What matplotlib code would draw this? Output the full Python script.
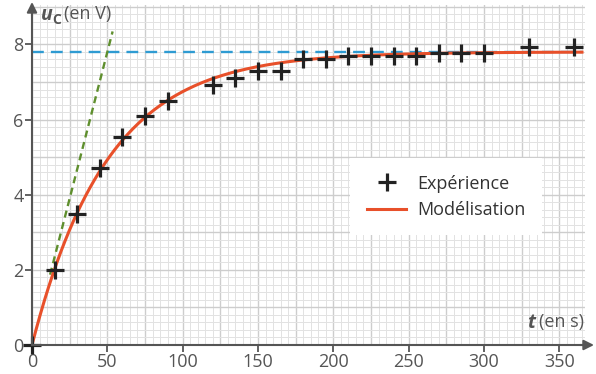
import numpy as np
import matplotlib
matplotlib.use('Agg')
import matplotlib.pyplot as plt
from matplotlib.ticker import MultipleLocator

plt.rcParams['font.family'] = ['Open Sans', 'DejaVu Sans']

# mesures (t en s, uC en V)
t_mes = [0, 15, 30, 45, 60, 75, 90, 120, 135, 150, 165, 180, 195, 210, 225,
         240, 255, 270, 285, 300, 330, 360]
u_mes = [0, 2.0, 3.5, 4.7, 5.53, 6.1, 6.5, 6.92, 7.1, 7.3, 7.3, 7.6, 7.6, 7.7, 7.7,
         7.7, 7.7, 7.78, 7.78, 7.78, 7.93, 7.93]

# modélisation uC = E (1 - exp(-t/tau))
E = 7.8
tau = 50
t_fin = 365
tangente_t = [12, 53.5]

rouge = '#e8502a'
bleu = '#2e9bd2'
vert = '#5f8f2e'
gris = '#555555'

fig = plt.figure(figsize=(5.96, 3.74), dpi=100)
ax = fig.add_axes([32 / 596, 29 / 374, 553 / 596, 340 / 374])
ax.set_xlim(0, 367)
ax.set_ylim(0, 9.05)

# quadrillage
ax.set_xticks([0, 50, 100, 150, 200, 250, 300, 350])
ax.set_yticks([0, 2, 4, 6, 8])
for v in np.arange(0, 367, 5):
    c, lw = ('#cdcdcd', 1.0) if v % 25 == 0 else ('#e2e2e2', 0.7)
    ax.axvline(v, color=c, lw=lw, zorder=0)
for v in np.arange(0, 9.1, 0.2):
    major = abs(v - round(v)) < 1e-6
    c, lw = ('#cdcdcd', 1.0) if major else ('#e2e2e2', 0.7)
    ax.axhline(v, color=c, lw=lw, zorder=0)

# asymptote et tangente
ax.plot([0, t_fin], [E, E], color=bleu, lw=1.7, dashes=(5, 3), zorder=2)
tt = np.array(tangente_t)
ax.plot(tt, E / tau * tt, color=vert, lw=1.7, dashes=(3, 2), zorder=2)

# modèle
t = np.linspace(0, t_fin, 400)
ax.plot(t, E * (1 - np.exp(-t / tau)), color=rouge, lw=2.2, zorder=3,
        label='Modélisation')

# mesures
ax.plot(t_mes, u_mes, ls='none', marker='+', ms=13, mew=2.3, color='#222222',
        zorder=4, label='Expérience', clip_on=False)

# axes
for s in ['top', 'right']:
    ax.spines[s].set_visible(False)
for s in ['left', 'bottom']:
    ax.spines[s].set_color(gris)
    ax.spines[s].set_linewidth(1.5)
    ax.spines[s].set_zorder(5)
ax.tick_params(which='major', length=5, width=1.3, color=gris, labelcolor=gris,
               labelsize=13, pad=1)

# flèches (pixels depuis le bas)
ax.annotate('', xy=(594, 29), xytext=(580, 29), xycoords='figure pixels',
            arrowprops=dict(arrowstyle='-|>', color=gris, lw=1.5,
                            mutation_scale=15, shrinkA=0, shrinkB=0))
ax.annotate('', xy=(32, 372), xytext=(32, 358), xycoords='figure pixels',
            arrowprops=dict(arrowstyle='-|>', color=gris, lw=1.5,
                            mutation_scale=15, shrinkA=0, shrinkB=0))

# titres des axes
fig.text(41 / 596, 1 - 15 / 374, 'u', fontsize=14, fontweight='bold',
         style='italic', color=gris, va='center')
fig.text(52 / 596, 1 - 20 / 374, 'C', fontsize=10, fontweight='bold',
         color=gris, va='center')
fig.text(64 / 596, 1 - 14 / 374, '(en V)', fontsize=13, color=gris, va='center')

fig.text(527 / 596, 1 - 323 / 374, 't', fontsize=14, fontweight='bold',
         style='italic', color=gris, va='center')
fig.text(539 / 596, 1 - 322 / 374, '(en s)', fontsize=13, color=gris, va='center')

# légende
handles, labels = ax.get_legend_handles_labels()
leg = ax.legend(handles[::-1], labels[::-1], loc='center',
                bbox_to_anchor=(0.749, 0.436), fontsize=13, frameon=True,
                fancybox=False, framealpha=1, edgecolor='white',
                handlelength=2.2, handletextpad=0.6, borderpad=0.9,
                labelspacing=0.45, borderaxespad=0)
leg.get_frame().set_linewidth(0)
for txt in leg.get_texts():
    txt.set_color('#333333')

fig.savefig('out.png', dpi=100)
